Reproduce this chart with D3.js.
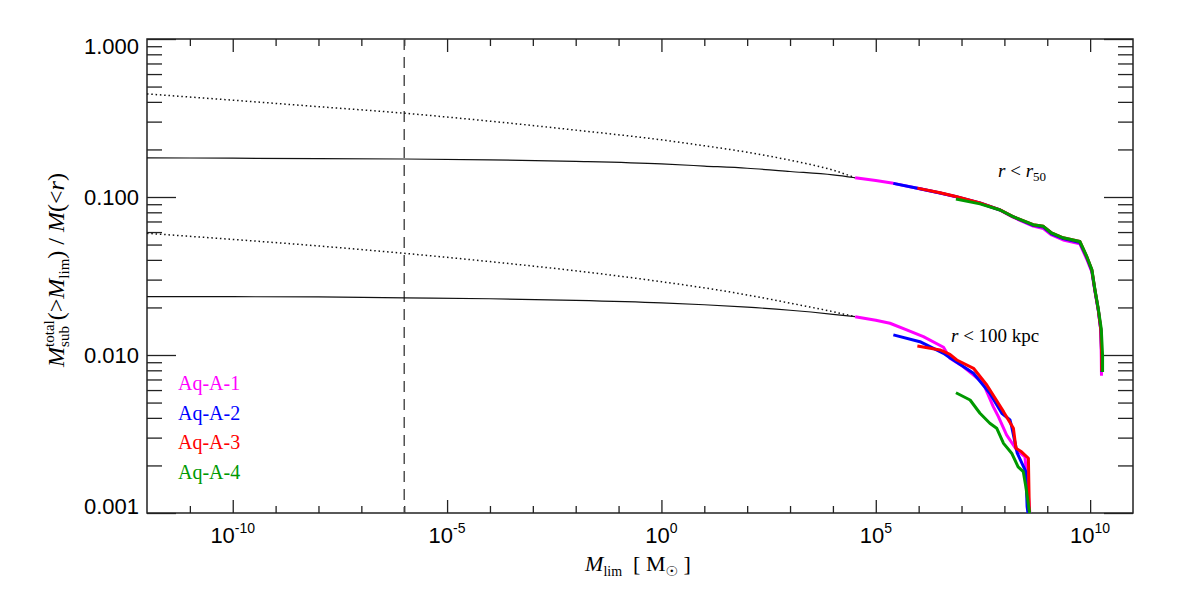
<!DOCTYPE html>
<html>
<head>
<meta charset="utf-8">
<script src="https://cdn.jsdelivr.net/npm/d3@7"></script>
<style>
  body { margin: 0; background: #fff; }
  text { fill: #000; }
</style>
</head>
<body>
<svg id="chart" width="1181" height="591"></svg>
<script>
// axis settings
const xDomain = [1e-12, 1e11]
const yDomain = [0.001, 1]
const xMajor = [1e-10, 1e-5, 1, 1e5, 1e10]
const xMajorExp = ['-10', '-5', '0', '5', '10']
const xMinor = [1e-11, 1e-9, 1e-8, 1e-7, 1e-6, 1e-4, 1e-3, 1e-2, 1e-1,
                1e1, 1e2, 1e3, 1e4, 1e6, 1e7, 1e8, 1e9]
const yMajor = [0.001, 0.01, 0.1, 1]
const yLabels = ['0.001', '0.010', '0.100', '1.000']
const yMinor = [0.002, 0.003, 0.004, 0.005, 0.006, 0.007, 0.008, 0.009,
                0.02, 0.03, 0.04, 0.05, 0.06, 0.07, 0.08, 0.09,
                0.2, 0.3, 0.4, 0.5, 0.6, 0.7, 0.8, 0.9]
const mLimit = 1e-6

// black model curves: [log10 Mlim, fraction]
const solidR50 = [[-12, 0.177], [-10, 0.176], [-8, 0.175], [-6, 0.174], [-4, 0.172],
  [-2, 0.168], [0, 0.162], [1, 0.157], [2, 0.152], [3, 0.145], [4, 0.138], [4.52, 0.1324]]
const dottedR50 = [[-12, 0.449], [-10, 0.410], [-8, 0.373], [-6, 0.339], [-4, 0.302],
  [-2, 0.265], [0, 0.230], [1, 0.211], [2, 0.192], [3, 0.171], [3.5, 0.160], [4, 0.148], [4.52, 0.1324]]
const solid100 = [[-12, 0.0234], [-10, 0.0234], [-8, 0.0233], [-6, 0.0230], [-4, 0.0227],
  [-2, 0.0222], [0, 0.0214], [1, 0.0208], [2, 0.0201], [3, 0.0192], [4, 0.0181], [4.52, 0.01747]]
const dotted100 = [[-12, 0.0589], [-10, 0.0539], [-8, 0.0490], [-6, 0.0440], [-4, 0.0390],
  [-2, 0.0341], [0, 0.0291], [1, 0.0266], [2, 0.0240], [3, 0.0213], [4, 0.0188], [4.52, 0.01747]]

// simulation curves, r < r50
const a1R50 = [[4.52, 0.1324], [5.0, 0.127], [5.41, 0.122], [5.97, 0.1135], [6.5, 0.106],
  [6.87, 0.1003], [7.43, 0.0914], [7.9, 0.0825], [8.2, 0.0745], [8.67, 0.0655], [8.91, 0.0632],
  [9.1, 0.0575], [9.37, 0.0535], [9.76, 0.0505], [9.92, 0.0405], [10.04, 0.0335], [10.11, 0.0255],
  [10.19, 0.0192], [10.25, 0.0142], [10.26, 0.0097], [10.265, 0.0074]]
const a2R50 = [[5.41, 0.122], [5.97, 0.1137], [6.5, 0.106], [6.87, 0.1005], [7.43, 0.0916],
  [7.9, 0.0827], [8.2, 0.075], [8.67, 0.0662], [8.91, 0.0645], [9.1, 0.0585], [9.37, 0.0545],
  [9.76, 0.0515], [9.92, 0.0415], [10.04, 0.0342], [10.11, 0.0258], [10.19, 0.0193],
  [10.25, 0.0144], [10.27, 0.0098], [10.27, 0.0078]]
const a3R50 = [[5.97, 0.1138], [6.5, 0.1065], [6.87, 0.1007], [7.43, 0.0918], [7.9, 0.0829],
  [8.2, 0.0752], [8.67, 0.0668], [8.91, 0.0652], [9.1, 0.0592], [9.37, 0.0552], [9.76, 0.0523],
  [9.92, 0.042], [10.04, 0.0346], [10.11, 0.026], [10.19, 0.0194], [10.25, 0.0145],
  [10.27, 0.0099], [10.27, 0.0079]]
const a4R50 = [[6.87, 0.0970], [7.43, 0.0905], [7.9, 0.0827], [8.2, 0.0752], [8.67, 0.0668],
  [8.91, 0.0652], [9.1, 0.0592], [9.37, 0.0552], [9.76, 0.0523], [9.92, 0.0422], [10.04, 0.0348],
  [10.11, 0.0262], [10.19, 0.0196], [10.26, 0.0146], [10.29, 0.0099], [10.29, 0.0078]]

// simulation curves, r < 100 kpc
const a1R100 = [[4.52, 0.01747], [5.0, 0.0166], [5.33, 0.01588], [5.72, 0.0144], [6.11, 0.01306],
  [6.58, 0.0112], [6.73, 0.00953], [7.0, 0.0086], [7.28, 0.00747], [7.51, 0.00662], [7.59, 0.00586],
  [7.74, 0.00471], [7.86, 0.00407], [8.05, 0.00312], [8.29, 0.0025], [8.48, 0.00227],
  [8.53, 0.00162], [8.6, 0.00095]]
const a2R100 = [[5.41, 0.0134], [6.03, 0.01214], [6.58, 0.01025], [6.73, 0.0096], [7.28, 0.00766],
  [7.66, 0.00572], [7.94, 0.00428], [8.13, 0.00388], [8.17, 0.00352], [8.3, 0.00239],
  [8.5, 0.00183], [8.53, 0.0011], [8.56, 0.00095]]
const a3R100 = [[5.97, 0.0114], [6.5, 0.01076], [6.73, 0.0101], [6.89, 0.0093], [7.28, 0.00824],
  [7.59, 0.00646], [7.98, 0.00438], [8.21, 0.00344], [8.27, 0.00257], [8.4, 0.00244],
  [8.56, 0.00222], [8.58, 0.0011], [8.59, 0.00095]]
const a4R100 = [[6.87, 0.00577], [7.2, 0.00519], [7.43, 0.00428], [7.66, 0.0037], [7.82, 0.00344],
  [7.98, 0.00276], [8.17, 0.00239], [8.32, 0.00196], [8.44, 0.00183], [8.5, 0.00147],
  [8.6, 0.00095]]

const names = ['Aq-A-1', 'Aq-A-2', 'Aq-A-3', 'Aq-A-4']
const colors = ['#ff00ff', '#0000ff', '#ff0000', '#009900']
const r50Series = [a1R50, a2R50, a3R50, a4R50]
const r100Series = [a1R100, a2R100, a3R100, a4R100]

const sans = "'Liberation Sans', Arial, Helvetica, sans-serif"
const serif = "'Liberation Serif', 'Times New Roman', serif"

const margin = { left: 147, right: 1133, top: 39, bottom: 513 }
const svg = d3.select('#chart')

svg.append('rect').attr('width', 1181).attr('height', 591).attr('fill', '#fff')

const x = d3.scaleLog().domain(xDomain).range([margin.left, margin.right])
const y = d3.scaleLog().domain(yDomain).range([margin.bottom, margin.top])

svg.append('clipPath').attr('id', 'plot-clip')
  .append('rect')
  .attr('x', margin.left).attr('y', margin.top)
  .attr('width', margin.right - margin.left)
  .attr('height', margin.bottom - margin.top)

// ---- axes (IDL style, ticks point inward) ----
function tickAxis(axis, values, size, transform) {
  const g = svg.append('g')
    .attr('transform', transform)
    .call(axis.tickValues(values).tickSize(size).tickFormat(''))
  g.select('.domain').remove()
  g.selectAll('line').attr('stroke', '#222').attr('stroke-width', 1.3)
  return g
}

tickAxis(d3.axisBottom(x), xMajor, -13, `translate(0,${margin.bottom})`)
tickAxis(d3.axisBottom(x), xMinor, -7, `translate(0,${margin.bottom})`)
tickAxis(d3.axisTop(x), xMajor, -13, `translate(0,${margin.top})`)
tickAxis(d3.axisTop(x), xMinor, -7, `translate(0,${margin.top})`)
tickAxis(d3.axisLeft(y), yMajor, -29, `translate(${margin.left},0)`)
tickAxis(d3.axisLeft(y), yMinor, -15, `translate(${margin.left},0)`)
tickAxis(d3.axisRight(y), yMajor, -29, `translate(${margin.right},0)`)
tickAxis(d3.axisRight(y), yMinor, -15, `translate(${margin.right},0)`)

svg.append('rect')
  .attr('x', margin.left).attr('y', margin.top)
  .attr('width', margin.right - margin.left)
  .attr('height', margin.bottom - margin.top)
  .attr('fill', 'none').attr('stroke', '#222').attr('stroke-width', 1.5)

// x tick labels: 10^n
const xLab = svg.append('g').selectAll('text')
  .data(xMajor).enter().append('text')
  .attr('x', d => x(d))
  .attr('y', 543)
  .attr('text-anchor', 'middle')
  .style('font-family', sans)
  .style('font-size', '22px')
xLab.append('tspan').text('10')
xLab.append('tspan')
  .attr('dy', -10)
  .style('font-size', '14px')
  .text((d, i) => xMajorExp[i])

// y tick labels
svg.append('g').selectAll('text')
  .data(yMajor).enter().append('text')
  .attr('x', 139)
  .attr('y', d => y(d) + 7.5 + (d === 1 ? 7 : d === 0.001 ? -7 : 0))
  .attr('text-anchor', 'end')
  .style('font-family', sans)
  .style('font-size', '22px')
  .text((d, i) => yLabels[i])

// ---- rich text helper: runs of [stacked pieces] ----
function richText(g, runs) {
  let cx = 0
  runs.forEach(run => {
    const widths = run.map(q => {
      const t = g.append('text')
        .attr('x', cx).attr('y', q.dy || 0)
        .style('font-family', q.font || serif)
        .style('font-size', (q.size || 22) + 'px')
        .style('font-style', q.it ? 'italic' : 'normal')
        .style('white-space', 'pre')
        .attr('xml:space', 'preserve')
        .text(q.t)
      return t.node().getComputedTextLength()
    })
    cx += Math.max(...widths)
  })
  return cx
}

// y title
const yTitle = svg.append('g').attr('transform', 'translate(64,270) rotate(-90)')
const yInner = yTitle.append('g')
const yw = richText(yInner, [
  [{ t: 'M', it: true, size: 24 }],
  [{ t: 'total', size: 15, dy: -10 }, { t: 'sub', size: 15, dy: 5 }],
  [{ t: '(>', size: 24 }],
  [{ t: 'M', it: true, size: 24 }],
  [{ t: 'lim', size: 15, dy: 5 }],
  [{ t: ') / ', size: 24 }],
  [{ t: 'M', it: true, size: 24 }],
  [{ t: '(<', size: 24 }],
  [{ t: 'r', it: true, size: 24 }],
  [{ t: ')', size: 24 }]
])
yInner.attr('transform', `translate(${-yw / 2},0)`)

// x title
const xTitle = svg.append('g').attr('transform', 'translate(638,571)')
const xInner = xTitle.append('g')
const xw = richText(xInner, [
  [{ t: 'M', it: true }],
  [{ t: 'lim', size: 14, dy: 5 }],
  [{ t: '  [ M' }],
  [{ t: '\u2609', size: 14, dy: 5, font: "'DejaVu Sans', sans-serif" }],
  [{ t: ' ]' }]
])
xInner.attr('transform', `translate(${-xw / 2},0)`)

// ---- curves ----
const line = d3.line()
  .x(d => x(Math.pow(10, d[0])))
  .y(d => y(d[1]))
  .curve(d3.curveLinear)

const smooth = d3.line()
  .x(d => x(Math.pow(10, d[0])))
  .y(d => y(d[1]))
  .curve(d3.curveMonotoneX)

const plot = svg.append('g').attr('clip-path', 'url(#plot-clip)')

plot.append('line')
  .attr('x1', x(mLimit)).attr('x2', x(mLimit))
  .attr('y1', margin.top).attr('y2', margin.bottom)
  .attr('stroke', '#444').attr('stroke-width', 1.4)
  .attr('stroke-dasharray', '11,7')

plot.selectAll('.dotted')
  .data([dottedR50, dotted100]).enter().append('path')
  .attr('class', 'dotted')
  .attr('d', smooth)
  .attr('fill', 'none')
  .attr('stroke', '#111')
  .attr('stroke-width', 1.5)
  .attr('stroke-dasharray', '1.5,2.8')

plot.selectAll('.solid')
  .data([solidR50, solid100]).enter().append('path')
  .attr('class', 'solid')
  .attr('d', smooth)
  .attr('fill', 'none')
  .attr('stroke', '#111')
  .attr('stroke-width', 1.2)

;[r50Series, r100Series].forEach(group => {
  plot.append('g').selectAll('path')
    .data(group).enter().append('path')
    .attr('d', line)
    .attr('fill', 'none')
    .attr('stroke', (d, i) => colors[i])
    .attr('stroke-width', 3)
    .attr('stroke-linejoin', 'round')
})

// ---- legend ----
svg.append('g').selectAll('text')
  .data(names).enter().append('text')
  .attr('x', 178)
  .attr('y', (d, i) => 390 + i * 29.5)
  .style('font-family', serif)
  .style('font-size', '20px')
  .style('fill', (d, i) => colors[i])
  .text(d => d)

// ---- annotations ----
const ann1 = svg.append('g').attr('transform', 'translate(998,177)')
richText(ann1, [
  [{ t: 'r', it: true, size: 19 }],
  [{ t: ' < ', size: 19 }],
  [{ t: 'r', it: true, size: 19 }],
  [{ t: '50', size: 13, dy: 4 }]
])
const ann2 = svg.append('g').attr('transform', 'translate(951,342)')
richText(ann2, [
  [{ t: 'r', it: true, size: 19 }],
  [{ t: ' < 100 kpc', size: 19 }]
])
</script>
</body>
</html>
